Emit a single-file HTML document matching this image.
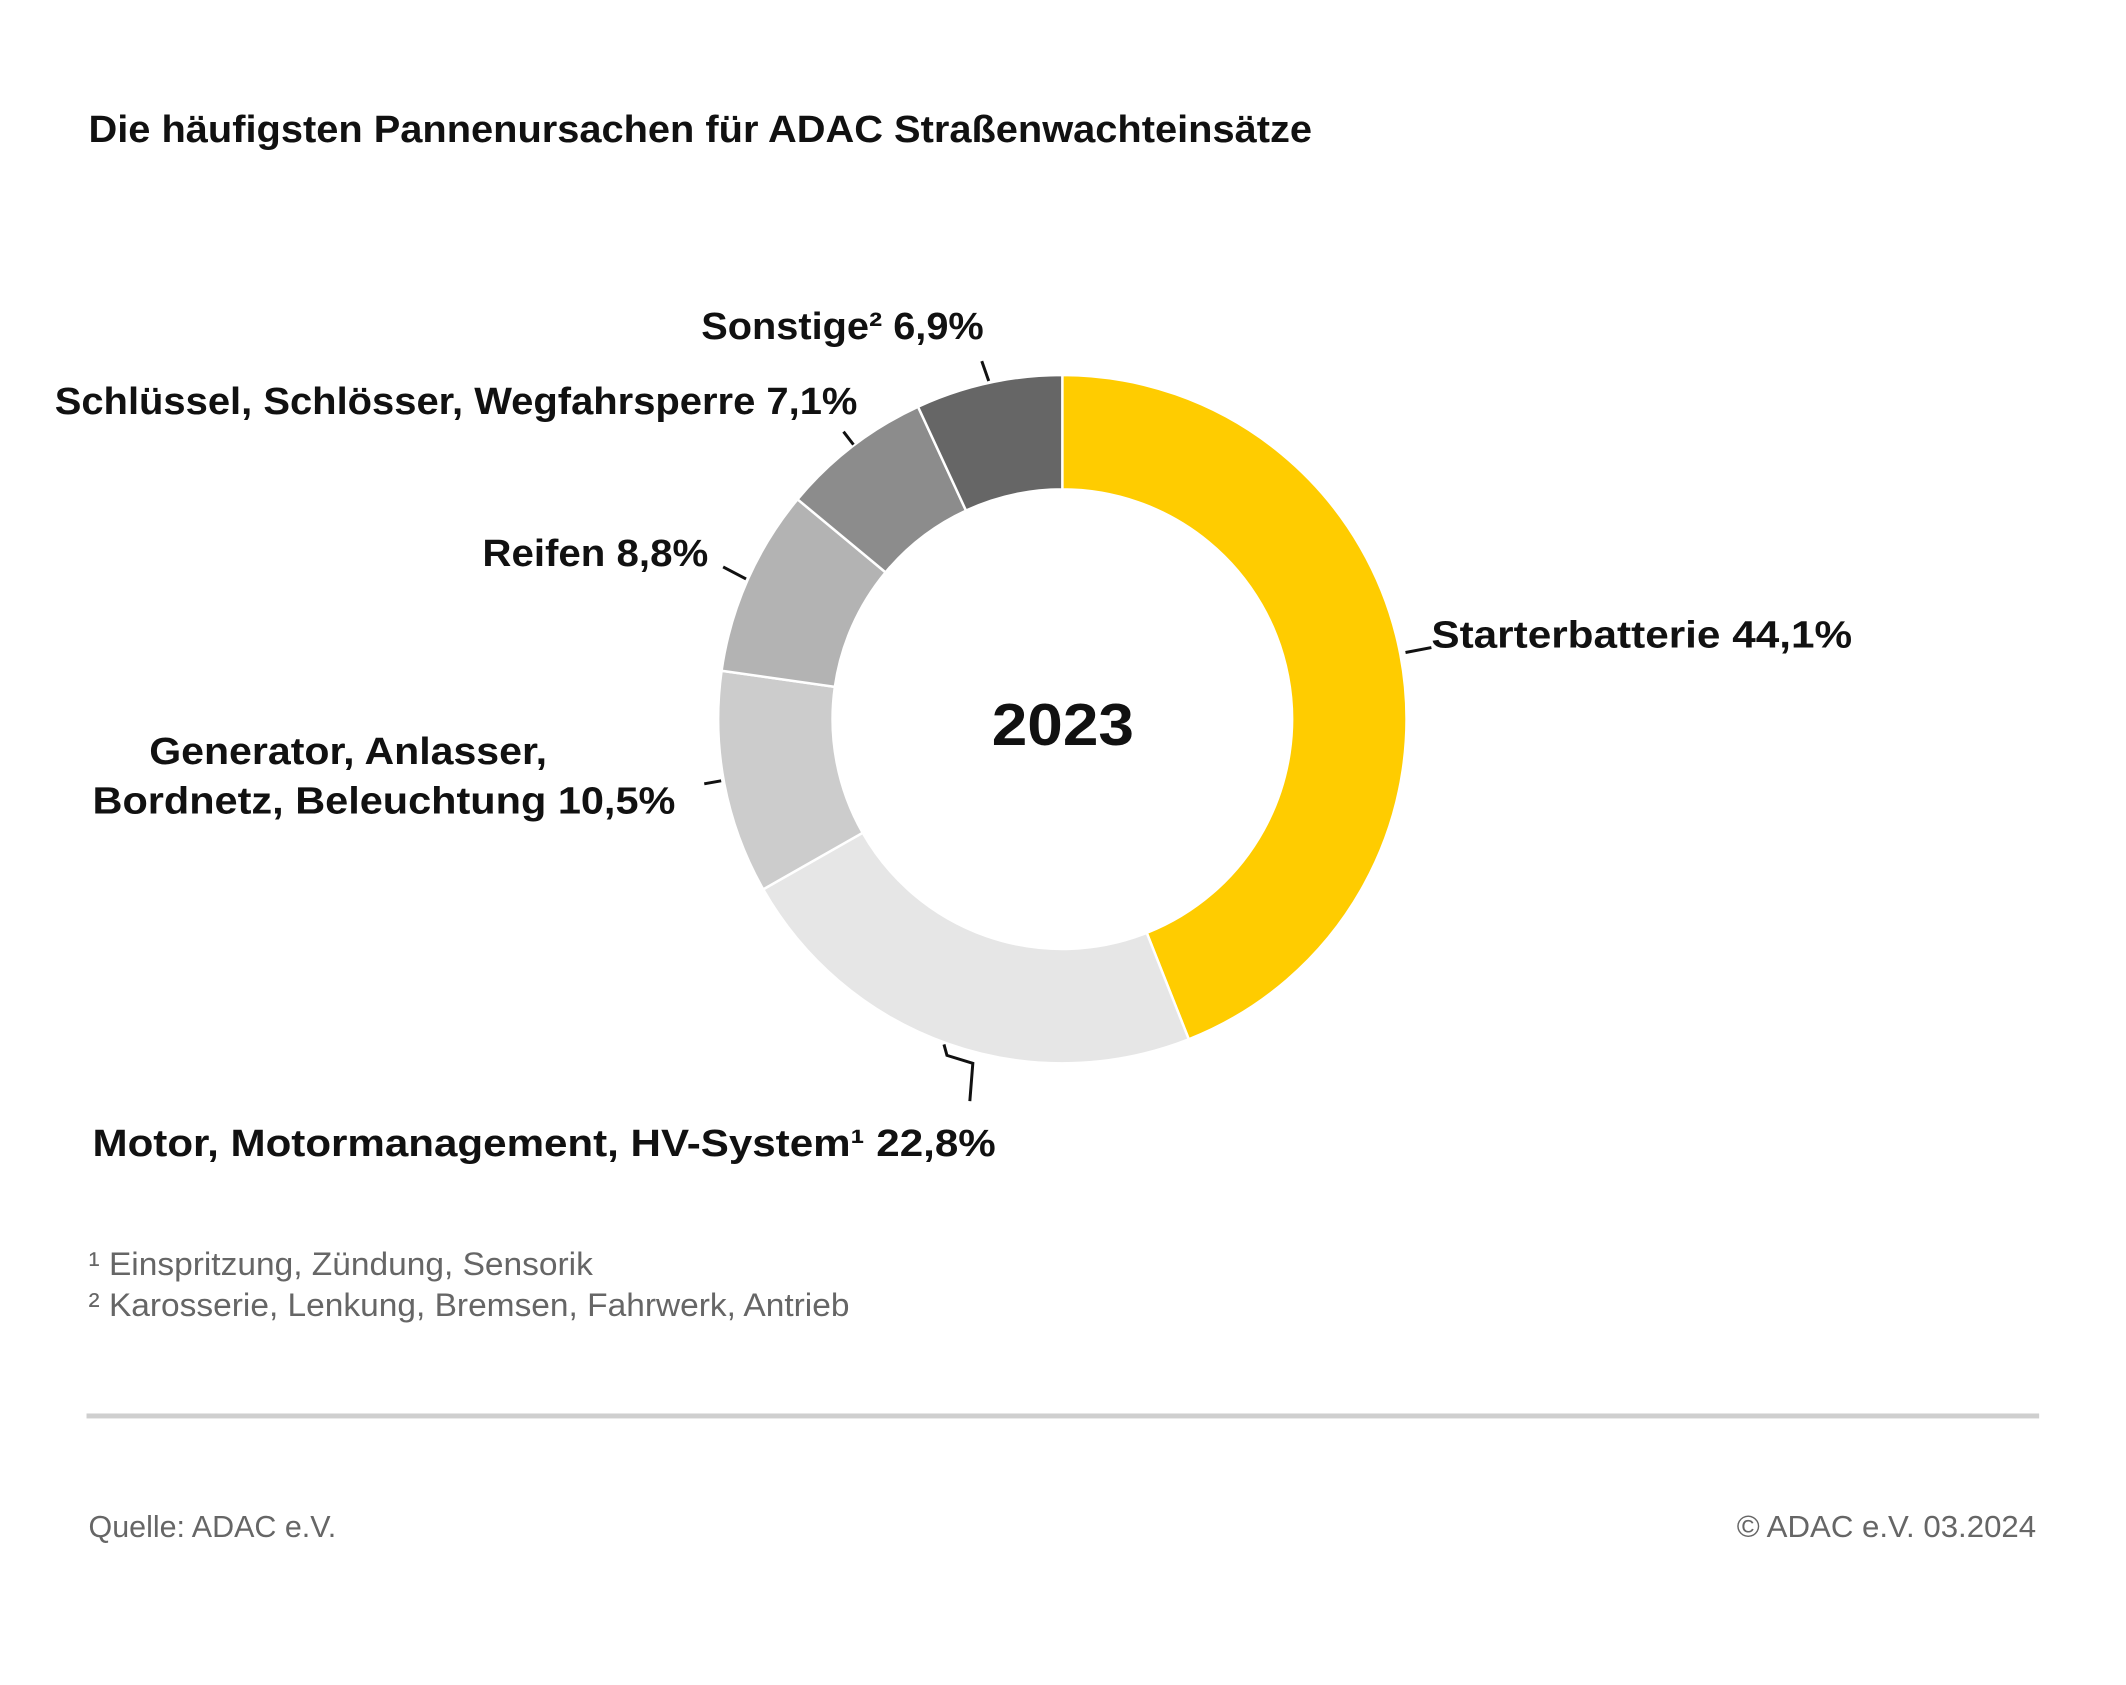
<!DOCTYPE html>
<html><head><meta charset="utf-8"><style>
html,body{margin:0;padding:0;background:#fff;}
svg{display:block;}
text{font-family:"Liberation Sans",sans-serif;}
</style></head><body>
<svg id="s" width="2126" height="1685" viewBox="0 0 2126 1685" xmlns="http://www.w3.org/2000/svg">
<rect width="2126" height="1685" fill="#fff"/>
<g transform="scale(0.9947)">
<g id="pie"></g>
<text x="89" y="143" font-size="38" font-weight="bold" fill="#111" textLength="1230" lengthAdjust="spacingAndGlyphs">Die häufigsten Pannenursachen für ADAC Straßenwachteinsätze</text>
<g font-size="38" font-weight="bold" fill="#111">
<text x="705" y="341" textLength="284" lengthAdjust="spacingAndGlyphs">Sonstige² 6,9%</text>
<text x="55" y="416" textLength="807" lengthAdjust="spacingAndGlyphs">Schlüssel, Schlösser, Wegfahrsperre 7,1%</text>
<text x="485" y="569" textLength="227" lengthAdjust="spacingAndGlyphs">Reifen 8,8%</text>
<text x="150" y="768" textLength="400" lengthAdjust="spacingAndGlyphs">Generator, Anlasser,</text>
<text x="93" y="818" textLength="586" lengthAdjust="spacingAndGlyphs">Bordnetz, Beleuchtung 10,5%</text>
<text x="1439" y="651" textLength="423" lengthAdjust="spacingAndGlyphs">Starterbatterie 44,1%</text>
<text x="93" y="1162" textLength="908" lengthAdjust="spacingAndGlyphs">Motor, Motormanagement, HV-System¹ 22,8%</text>
</g>
<text x="997" y="749" font-size="60" font-weight="bold" fill="#111" textLength="143" lengthAdjust="spacingAndGlyphs">2023</text>
<g stroke="#111" stroke-width="3" fill="none">
<line x1="987" y1="363" x2="994" y2="383"/>
<line x1="848" y1="434" x2="858" y2="447"/>
<line x1="727" y1="570" x2="750" y2="582"/>
<line x1="708" y1="788" x2="725" y2="785"/>
<line x1="1413" y1="656" x2="1439" y2="651"/>
<polyline points="949,1050 952,1061 978,1069 975,1107"/>
</g>
<g font-size="33" fill="#666">
<text x="89" y="1282" textLength="507" lengthAdjust="spacingAndGlyphs">¹ Einspritzung, Zündung, Sensorik</text>
<text x="89" y="1323" textLength="765" lengthAdjust="spacingAndGlyphs">² Karosserie, Lenkung, Bremsen, Fahrwerk, Antrieb</text>
</g>
<rect x="87" y="1421" width="1963" height="5" fill="#cfcfcf"/>
<g font-size="31" fill="#666">
<text x="89" y="1545" textLength="249" lengthAdjust="spacingAndGlyphs">Quelle: ADAC e.V.</text>
<text x="1746" y="1545" textLength="301" lengthAdjust="spacingAndGlyphs">© ADAC e.V. 03.2024</text>
</g>
</g>
</svg>
<script>
var cx=1068,cy=723,R=346,r=231;
var data=[[44.1,"#FFCC00"],[22.8,"#E6E6E6"],[10.5,"#CCCCCC"],[8.8,"#B3B3B3"],[7.1,"#8C8C8C"],[6.9,"#666666"]];
var tot=0;data.forEach(function(d){tot+=d[0];});
var a=0,g=document.getElementById("pie"),h="";
function p(rad,ang){return [cx+rad*Math.sin(ang),cy-rad*Math.cos(ang)];}
data.forEach(function(d){
 var a0=a/tot*2*Math.PI;a+=d[0];var a1=a/tot*2*Math.PI;
 var lg=(a1-a0)>Math.PI?1:0;
 var o0=p(R,a0),o1=p(R,a1),i1=p(r,a1),i0=p(r,a0);
 h+='<path d="M'+o0+' A'+R+','+R+' 0 '+lg+' 1 '+o1+' L'+i1+' A'+r+','+r+' 0 '+lg+' 0 '+i0+' Z" fill="'+d[1]+'" stroke="#fff" stroke-width="2.5"/>';
});
g.innerHTML=h;
</script>
</body></html>
